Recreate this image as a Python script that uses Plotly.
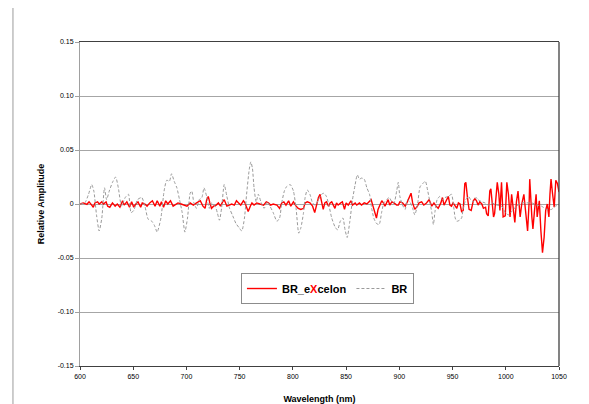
import plotly.graph_objects as go

# ---------------- data ----------------
br_wl = [600, 604.5, 608, 611, 613, 615.5, 618, 620.5, 623, 625, 627.5, 630.5, 633.5, 636, 639, 642.5, 645.5, 648, 650.5, 654,
         658, 661, 664, 667.5, 670, 672.5, 676, 679, 681.5, 684, 686, 688.5, 691, 693.5, 696, 698.5, 701, 703.5, 705, 707,
         709.5, 712, 714.5, 716.5, 719, 721.5, 723.5, 727, 729, 731, 733, 735.5, 738, 740.5, 743.5, 746.5, 749.5, 752, 754.5, 756.5,
         759, 760.5, 762, 763.5, 765.5, 767.5, 770, 773, 776, 778.5, 781.5, 785, 787.5, 789.5, 792, 794, 797.5, 800.5, 803, 805.5,
         807.5, 810, 811.5, 813.5, 816, 818.5, 821, 824, 827, 829, 831.5, 834, 836.5, 839.5, 842, 844.5, 847, 849, 851, 853.5,
         856, 858.5, 860.5, 862.5, 864.5, 867, 869.5, 872, 874, 876, 878.5, 881, 883.5, 885.5, 888, 890.5, 893, 895, 897.5, 899,
         900.5, 903, 905.5, 907.5, 910, 912.5, 914.5, 917, 919.5, 922, 924.5, 926.5, 928.5, 930.5, 932, 933.5, 935.5, 938, 940.5, 943,
         946, 949, 950.5, 952.5, 954, 956.5, 958.5, 960, 962.5, 965, 967, 969.5, 972, 974, 977.5, 980.5, 983.5, 987, 991.5, 996,
         999.5, 1002.5, 1005.5, 1010, 1015, 1019.5, 1024.5, 1029, 1033.5, 1038.5, 1043, 1046.5, 1050]
br_val = [0, 0.001, 0.009, 0.018, 0.012, -0.010, -0.025, -0.013, 0.015, 0.004, 0.012, 0.020, 0.025, 0.015, -0.002, 0.006, 0.009, -0.008, -0.006, 0.004,
          0.006, -0.002, -0.014, -0.016, -0.020, -0.026, -0.013, 0.012, 0.022, 0.021, 0.028, 0.021, 0.015, 0.004, -0.008, -0.026, -0.013, 0.010, 0.012, 0.001,
          -0.004, 0.004, 0.006, 0.015, 0.007, -0.004, 0.001, -0.002, -0.008, -0.015, -0.004, 0.018, 0.007, -0.004, -0.011, -0.018, -0.022, -0.025, -0.013, 0.009,
          0.032, 0.039, 0.033, 0.015, 0.002, 0.009, 0.002, -0.004, 0.002, -0.002, -0.008, -0.016, -0.013, 0.001, 0.012, 0.016, 0.018, 0.012, -0.004, -0.027,
          -0.022, -0.008, 0.006, 0.013, 0.009, 0.001, -0.001, 0.004, 0.009, 0.010, 0.007, -0.002, -0.013, -0.021, -0.024, -0.016, -0.013, -0.024, -0.031, -0.016,
          0.004, 0.018, 0.027, 0.023, 0.024, 0.023, 0.015, 0.009, -0.004, -0.013, -0.018, -0.019, -0.007, 0.001, 0.004, 0.006, 0.002, 0.001, 0.012, 0.020,
          0.007, -0.001, -0.005, 0.004, 0.002, -0.004, -0.010, -0.001, 0.016, 0.019, 0.021, 0.013, 0.003, -0.008, -0.019, -0.007, 0.004, 0.007, 0.004, 0.006,
          0.007, 0.009, 0.002, -0.013, -0.016, -0.015, -0.013, -0.004, 0.004, 0.007, 0.004, 0.002, 0.006, 0.004, 0.002, 0.001, -0.001, 0.001, -0.001, -0.002,
          -0.008, -0.010, -0.007, -0.002, 0.001, 0.001, 0.001, -0.001, -0.002, -0.005, -0.005, -0.002, -0.001]

ex_wl = [600, 603, 606.5, 608.5, 611, 612.5, 614, 616.5, 618, 620.5, 622, 624.5, 626, 628, 630.5, 633, 635, 637.5, 640, 641.5,
         644, 646.5, 648.5, 650.5, 652.5, 654.5, 657, 658.5, 661, 663, 665.5, 668, 670.5, 672.5, 675, 676.5, 678.5, 680.5, 682.5, 685,
         687.5, 690, 692, 695, 697, 700.5, 703.5, 706.5, 709.5, 713, 715.5, 717.5, 719, 720.5, 722, 723.5, 725.5, 728, 730, 732,
         734, 735.5, 738, 740.5, 742.5, 745, 747, 749, 751, 753.5, 755, 756.5, 758, 760, 761.5, 763.5, 766, 769, 772.5, 775,
         777, 779, 781.5, 785, 787.5, 789.5, 791.5, 793.5, 796, 798, 800.5, 803, 805, 807.5, 810, 811.5, 813.5, 816, 818.5, 820.5,
         822.5, 824, 825.5, 827, 828.5, 830, 831.5, 833.5, 835, 836.5, 838, 839.5, 841, 842.5, 845, 846.5, 848.5, 850, 852, 854.5,
         856, 858.5, 860, 862.5, 864.5, 867, 869.5, 871.5, 873.5, 875, 877, 878.5, 880, 882, 883.5, 885, 886.5, 888, 889.5, 891,
         893, 895, 897.5, 899, 900.5, 903, 905.5, 907.5, 909.5, 911, 912.5, 914.5, 917, 918.5, 921, 923, 925.5, 928, 930.5, 932.5,
         934.5, 936.5, 939, 940.5, 942, 944, 946, 947.5, 949, 950.5, 952.5, 954, 955.5, 957, 958.5, 960, 961.5, 962.5, 964, 965.5,
         967.5, 969.5, 971, 972.5, 974, 975.5, 977.5, 979, 981, 982, 983.5, 985, 986, 987.5, 988.5, 989.5, 991, 992, 993.5, 994.5,
         996, 997.5, 999.5, 1001, 1002.5, 1004, 1005.5, 1007, 1008.5, 1010, 1011.5, 1013.5, 1015, 1017, 1019, 1020.5, 1022, 1022.5, 1024.5, 1025.5,
         1027, 1028.5, 1029.5, 1031.5, 1033, 1034.5, 1036, 1037.5, 1039, 1040.5, 1041.5, 1042.5, 1044, 1045.5, 1047, 1048.5, 1050]
ex_val = [0, 0.001, -0.0003, 0.002, -0.001, -0.003, 0.001, 0.002, 0, 0.002, 0, 0.002, -0.002, -0.003, 0.001, -0.002, 0, -0.003, 0.003, -0.001,
          0.002, -0.003, 0.002, -0.003, 0, 0.002, -0.003, 0.001, 0, -0.002, 0.001, 0.003, -0.002, 0.003, -0.002, 0.002, -0.003, 0.003, 0, 0.003,
          -0.002, 0, 0.001, 0, -0.001, -0.002, 0.001, -0.001, 0.001, 0.003, -0.002, -0.004, 0.004, 0.007, 0.001, -0.004, -0.002, -0.001, 0.001, -0.002,
          0.002, 0.004, -0.002, -0.001, 0, -0.001, 0.003, 0.001, -0.001, 0.003, 0.001, -0.003, -0.007, -0.002, 0.001, -0.001, 0.001, 0, -0.001, 0.002,
          0.001, -0.001, 0, -0.001, -0.004, 0.001, 0.002, -0.001, 0.003, -0.002, 0.002, -0.002, -0.004, -0.005, -0.004, 0.001, 0.002, 0.001, -0.002, -0.008,
          0, 0.006, 0.009, 0.001, -0.005, 0.001, 0.002, -0.002, 0.001, 0.002, -0.001, -0.004, 0.001, -0.001, 0.001, 0.002, -0.005, 0.001, -0.001, 0.003,
          -0.001, 0.001, -0.001, 0.001, -0.001, 0.001, 0, 0.002, 0.004, -0.001, -0.008, -0.013, -0.005, -0.001, 0.003, 0.001, -0.002, 0.001, 0.004, -0.001,
          0.002, 0.001, -0.001, -0.001, 0.002, 0.001, -0.002, 0.002, 0.007, 0.010, 0.001, -0.005, -0.002, 0.001, 0.002, -0.001, 0.001, 0.004, -0.002, 0.001,
          -0.002, -0.004, 0.001, 0.006, -0.001, 0.003, 0.007, -0.001, -0.002, 0.001, -0.002, -0.004, 0.001, 0, -0.007, -0.006, 0.019, 0.020, 0.006, -0.005,
          -0.006, 0.003, 0.005, 0.003, -0.001, 0.002, 0, -0.004, -0.003, -0.009, -0.011, 0.012, 0.014, 0, -0.012, -0.009, 0.014, 0.020, 0.009, -0.006,
          0.020, -0.012, -0.011, 0.020, 0.009, -0.012, 0.009, -0.002, -0.017, 0.002, 0.012, -0.012, 0, 0.009, -0.015, -0.025, 0.003, 0.023, -0.012, -0.023,
          -0.006, 0.009, -0.012, 0.003, -0.025, -0.045, -0.031, -0.006, 0, -0.012, 0.009, 0.023, 0.009, -0.003, 0.022, 0.019, 0.011]

y_ticks = [-0.15, -0.10, -0.05, 0, 0.05, 0.10, 0.15]
y_tick_text = ["-0.15", "-0.10", "-0.05", "0", "0.05", "0.10", "0.15"]
x_ticks = [600, 650, 700, 750, 800, 850, 900, 950, 1000, 1050]

FONT = "Liberation Sans, Arial, sans-serif"

fig = go.Figure()
fig.add_trace(go.Scatter(
    x=ex_wl, y=ex_val, mode="lines",
    name="<b>BR_e<span style='color:#ff0000'>X</span>celon</b>",
    line=dict(color="#ff0000", width=1.4),
))
fig.add_trace(go.Scatter(
    x=br_wl, y=br_val, mode="lines", name="<b>BR</b>",
    line=dict(color="#9a9a9a", width=1, dash="3px,2px", shape="spline", smoothing=0.6),
))

# page body adds an 8px offset, so figure is sized/margined to compensate
fig.update_layout(
    width=581, height=396,
    margin=dict(l=72, r=30, t=34, b=38, autoexpand=False),
    paper_bgcolor="white", plot_bgcolor="white",
    font=dict(family=FONT, size=7, color="#000000"),
    showlegend=True,
    legend=dict(
        orientation="h", x=0.336, y=0.287, xanchor="left", yanchor="top",
        bgcolor="white", bordercolor="#8c8c8c", borderwidth=1,
        font=dict(family=FONT, size=11, color="#000000"),
        itemwidth=30, tracegroupgap=0,
    ),
    xaxis=dict(
        range=[600, 1050], tickvals=x_ticks, ticks="outside", ticklen=3,
        tickcolor="#404040", showline=True, linecolor="#404040", linewidth=1.3,
        mirror=True, showgrid=False, zeroline=False, automargin=False,
        tickfont=dict(size=7),
        title=dict(text="<b>Wavelength (nm)</b>", font=dict(size=9), standoff=19),
    ),
    yaxis=dict(
        range=[-0.15, 0.15], tickvals=y_ticks, ticktext=y_tick_text,
        ticks="outside", ticklen=4, tickcolor="#a0a0a0",
        showline=True, linecolor="#a0a0a0", linewidth=1, automargin=False,
        showgrid=True, gridcolor="#a6a6a6", gridwidth=1, zeroline=False,
        tickfont=dict(size=7),
        title=dict(text="<b>Relative Amplitude</b>", font=dict(size=9), standoff=11),
    ),
    shapes=[
        # right border of plot area
        dict(type="line", xref="paper", yref="paper", x0=1, x1=1, y0=0, y1=1,
             line=dict(color="#404040", width=1.3)),
        # outer chart frame (left and top)
        dict(type="line", xref="paper", yref="paper", x0=-0.14, x1=-0.14, y0=-0.12, y1=1.114,
             line=dict(color="#bdbdbd", width=1.5)),
        dict(type="line", xref="paper", yref="paper", x0=-0.14, x1=1.07, y0=1.114, y1=1.114,
             line=dict(color="#bdbdbd", width=1.5)),
    ],
)

fig.write_html("out.html")
